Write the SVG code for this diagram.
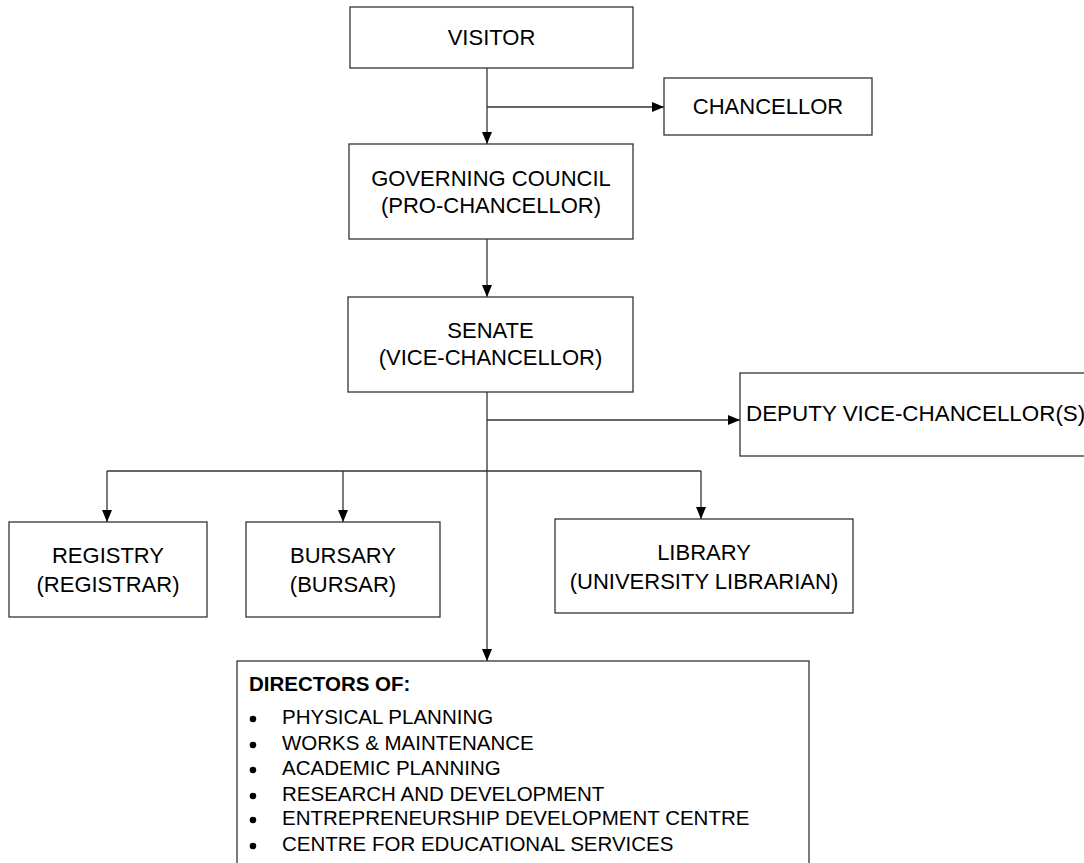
<svg xmlns="http://www.w3.org/2000/svg" width="1084" height="863" viewBox="0 0 1084 863">
<style>
  .box { fill: #ffffff; stroke: #333333; stroke-width: 1.3; }
  .t { font-family: "Liberation Sans", Arial, sans-serif; font-size: 22px; fill: #000; text-anchor: middle; }
  .item { font-family: "Liberation Sans", Arial, sans-serif; font-size: 20.5px; fill: #000; }
  .head { font-family: "Liberation Sans", Arial, sans-serif; font-size: 20.5px; font-weight: bold; fill: #000; }
  .line { fill: none; stroke: #333333; stroke-width: 1.3; }
  .arr { fill: none; stroke: #333333; stroke-width: 1.3; marker-end: url(#ah); }
</style>
<defs>
  <marker id="ah" viewBox="0 0 12 10" refX="12" refY="5" markerWidth="12" markerHeight="10" markerUnits="userSpaceOnUse" orient="auto">
    <path d="M0,0 L12,5 L0,10 Z" fill="#000"/>
  </marker>
</defs>
<rect width="1084" height="863" fill="#ffffff"/>

<g id="connectors">
  <line class="arr" x1="487" y1="68" x2="487" y2="144"/>
  <line class="arr" x1="487" y1="107" x2="664" y2="107"/>
  <line class="arr" x1="487" y1="239" x2="487" y2="297"/>
  <line class="arr" x1="487" y1="392" x2="487" y2="661"/>
  <line class="arr" x1="487" y1="420" x2="740" y2="420"/>
  <line class="line" x1="107" y1="471" x2="701" y2="471"/>
  <line class="arr" x1="107" y1="471" x2="107" y2="522"/>
  <line class="arr" x1="343" y1="471" x2="343" y2="522"/>
  <line class="arr" x1="701" y1="471" x2="701" y2="519"/>
</g>

<g id="visitor">
  <rect class="box" x="350" y="7" width="283" height="61"/>
  <text class="t" x="491.5" y="45">VISITOR</text>
</g>

<g id="chancellor">
  <rect class="box" x="664" y="78" width="208" height="57"/>
  <text class="t" x="768" y="114">CHANCELLOR</text>
</g>

<g id="governing-council">
  <rect class="box" x="349" y="144" width="284" height="95"/>
  <text class="t" x="491" y="186">GOVERNING COUNCIL</text>
  <text class="t" x="491" y="213">(PRO-CHANCELLOR)</text>
</g>

<g id="senate">
  <rect class="box" x="348" y="297" width="285" height="95"/>
  <text class="t" x="490.5" y="338">SENATE</text>
  <text class="t" x="490.5" y="365">(VICE-CHANCELLOR)</text>
</g>

<g id="deputy-vc">
  <rect class="box" x="740" y="373" width="380" height="83"/>
  <text class="t" x="746" y="421" style="text-anchor:start;font-size:22.4px">DEPUTY VICE-CHANCELLOR(S)</text>
</g>

<g id="registry">
  <rect class="box" x="9" y="522" width="198" height="95"/>
  <text class="t" x="108" y="563">REGISTRY</text>
  <text class="t" x="108" y="592">(REGISTRAR)</text>
</g>

<g id="bursary">
  <rect class="box" x="246" y="522" width="194" height="95"/>
  <text class="t" x="343" y="563">BURSARY</text>
  <text class="t" x="343" y="592">(BURSAR)</text>
</g>

<g id="library">
  <rect class="box" x="555" y="519" width="298" height="94"/>
  <text class="t" x="704" y="560">LIBRARY</text>
  <text class="t" x="704" y="589">(UNIVERSITY LIBRARIAN)</text>
</g>

<g id="directors">
  <rect class="box" x="237" y="661" width="572" height="220"/>
  <text class="head" x="249" y="691">DIRECTORS OF:</text>
  <g fill="#000">
    <circle cx="253" cy="719" r="3.3"/>
    <circle cx="253" cy="745" r="3.3"/>
    <circle cx="253" cy="770" r="3.3"/>
    <circle cx="253" cy="796" r="3.3"/>
    <circle cx="253" cy="820" r="3.3"/>
    <circle cx="253" cy="846" r="3.3"/>
  </g>
  <text class="item" x="282" y="724">PHYSICAL PLANNING</text>
  <text class="item" x="282" y="750">WORKS &amp; MAINTENANCE</text>
  <text class="item" x="282" y="775">ACADEMIC PLANNING</text>
  <text class="item" x="282" y="801">RESEARCH AND DEVELOPMENT</text>
  <text class="item" x="282" y="825">ENTREPRENEURSHIP DEVELOPMENT CENTRE</text>
  <text class="item" x="282" y="851">CENTRE FOR EDUCATIONAL SERVICES</text>
</g>
</svg>
